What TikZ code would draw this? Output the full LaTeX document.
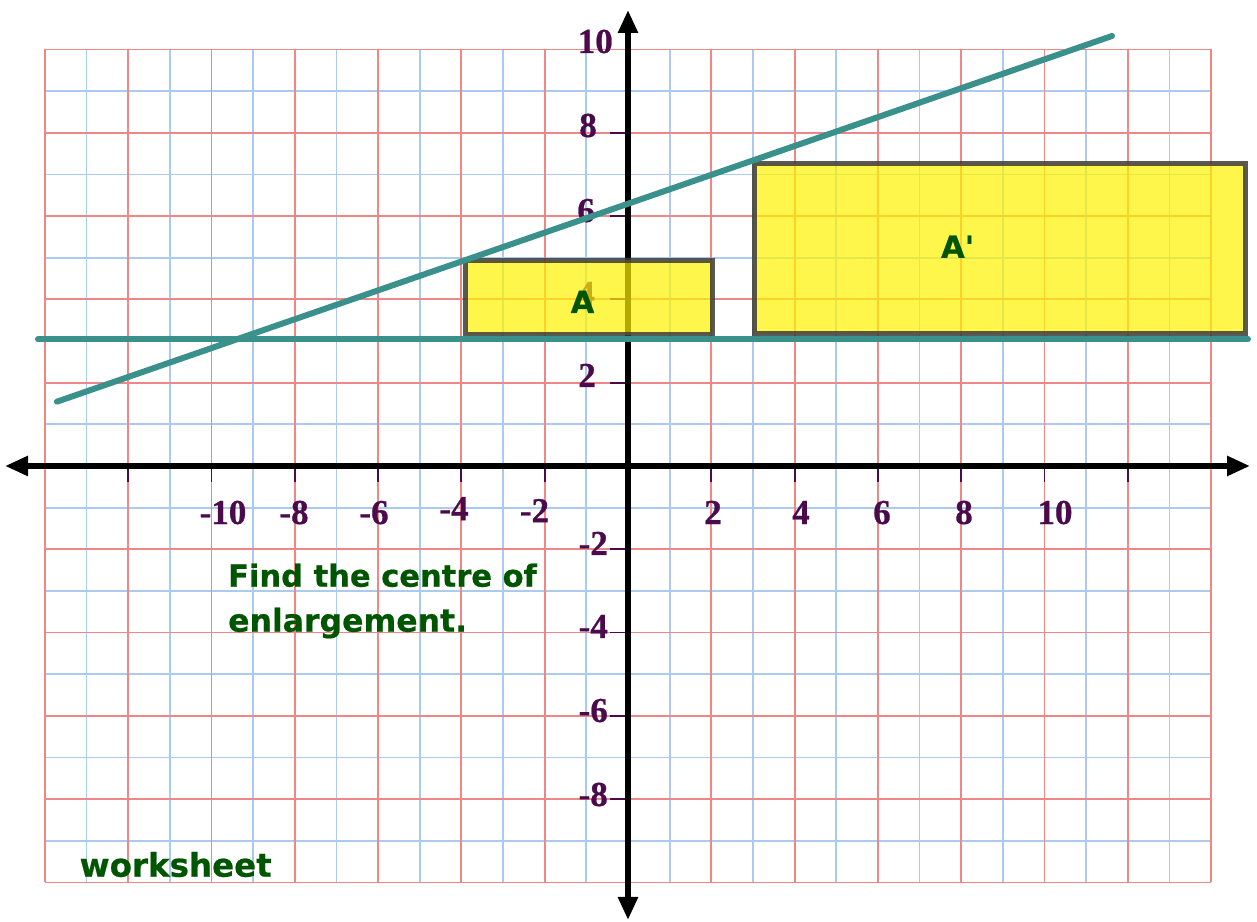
\documentclass[tikz,border=0pt]{standalone}
\usepackage{fontspec}
\setmainfont{Liberation Serif}
\newfontfamily\labfont{Liberation Serif}[BoldFeatures={FakeBold=0.7}]
\newfontfamily\dvs{DejaVu Sans}[BoldFeatures={FakeBold=0.6}]
\usetikzlibrary{arrows.meta}
\definecolor{gridred}{RGB}{240,135,135}
\definecolor{gridblue}{RGB}{170,202,240}
\definecolor{tealline}{RGB}{58,145,140}
\definecolor{labpurple}{RGB}{75,10,75}
\definecolor{txtgreen}{RGB}{0,85,0}
\definecolor{rectborder}{RGB}{60,60,60}
\tikzset{
  bluegrid/.style={gridblue, line width=1.8pt},
  redgrid/.style={gridred, line width=1.8pt},
  axisline/.style={black, line width=5.5pt, arrows={Triangle[length=23pt,width=19pt]-Triangle[length=23pt,width=19pt]}},
  tickmark/.style={labpurple, line width=1.8pt},
  axislab/.style={font=\labfont\bfseries\fontsize{35}{35}\selectfont, text=labpurple, inner sep=0pt},
  shapebox/.style={fill=yellow, fill opacity=0.7, draw=rectborder, draw opacity=0.85, line width=5pt},
  guide/.style={tealline, line width=6pt, line cap=round},
  greentext/.style={font=\dvs\bfseries\fontsize{30.5}{36}\selectfont, text=txtgreen, inner sep=0pt}
}
\begin{document}
\begin{tikzpicture}[x=41.65pt,y=41.65pt]
\useasboundingbox (-15.078,-10.948) rectangle (15.102,11.188);
% grid
\foreach \i in {-13,-11,...,13} \draw[bluegrid] (\i,-10) -- (\i,10);
\foreach \j in {-9,-7,...,9} \draw[bluegrid] (-14,\j) -- (14,\j);
\foreach \i in {-14,-12,...,14} \draw[redgrid] (\i,-10) -- (\i,10);
\foreach \j in {-10,-8,...,10} \draw[redgrid] (-14,\j) -- (14,\j);
% axes
\coordinate (xl) at (-14.957,0);
\coordinate (xr) at (14.934,0);
\coordinate (yb) at (0,-10.90);
\coordinate (yt) at (0,10.948);
\draw[axisline] (xl) -- (xr);
\draw[axisline] (yb) -- (yt);
% ticks
\foreach \i in {-12,-10,...,-2,2,4,...,12} \draw[tickmark] (\i,-0.072) -- (\i,-0.384);
\foreach \j in {-8,-6,-4,-2,2,4,6,8} \draw[tickmark] (-0.43,\j) -- (-0.07,\j);
% x labels
\node[axislab, anchor=base] (xm10) at (-9.724,-1.393) {-10};
\node[axislab, anchor=base] (xm8) at (-8.019,-1.393) {-8};
\node[axislab, anchor=base] (xm6) at (-6.098,-1.393) {-6};
\node[axislab, anchor=base] (xm4) at (-4.178,-1.30) {-4};
\node[axislab, anchor=base] (xm2) at (-2.245,-1.35) {-2};
\node[axislab, anchor=base] (xp2) at (2.041,-1.393) {2};
\node[axislab, anchor=base] (xp4) at (4.154,-1.393) {4};
\node[axislab, anchor=base] (xp6) at (6.098,-1.393) {6};
\node[axislab, anchor=base] (xp8) at (8.067,-1.393) {8};
\node[axislab, anchor=base] (xp10) at (10.252,-1.393) {10};
% y labels
\node[axislab, anchor=base east] (yp10) at (-0.36,9.916) {10};
\node[axislab, anchor=base east] (yp8) at (-0.744,7.899) {8};
\node[axislab, anchor=base east] (yp6) at (-0.792,5.858) {6};
\node[axislab, anchor=base east] (yp4) at (-0.792,3.866) {4};
\node[axislab, anchor=base east] (yp2) at (-0.768,1.897) {2};
\node[axislab, anchor=base east] (ym2) at (-0.48,-2.137) {-2};
\node[axislab, anchor=base east] (ym4) at (-0.48,-4.13) {-4};
\node[axislab, anchor=base east] (ym6) at (-0.48,-6.146) {-6};
\node[axislab, anchor=base east] (ym8) at (-0.48,-8.163) {-8};
% shapes
\draw[shapebox] (-3.90,3.145) rectangle (2.029,4.934);
\draw[shapebox] (3.037,3.169) rectangle (14.814,7.263);
% guide lines
\coordinate (h1) at (-14.166,3.037);
\coordinate (h2) at (14.886,3.037);
\coordinate (s1) at (-13.71,1.544);
\coordinate (s2) at (11.62,10.324);
\draw[guide] (h1) -- (h2);
\draw[guide] (s1) -- (s2);
% labels
\node[greentext, anchor=base] (lA) at (-1.092,3.673) {A};
\node[greentext, anchor=base] (lAp) at (7.913,4.999) {A'};
\node[greentext, anchor=base west] (q1) at (-9.604,-2.898) {Find the centre of};
\node[greentext, anchor=base west, font=\dvs\bfseries\fontsize{31.5}{36}\selectfont] (q2) at (-9.604,-3.978) {enlargement.};
\node[greentext, anchor=base west, font=\dvs\bfseries\fontsize{32.5}{36}\selectfont] (ws) at (-13.17,-9.861) {worksheet};
\end{tikzpicture}
\end{document}
